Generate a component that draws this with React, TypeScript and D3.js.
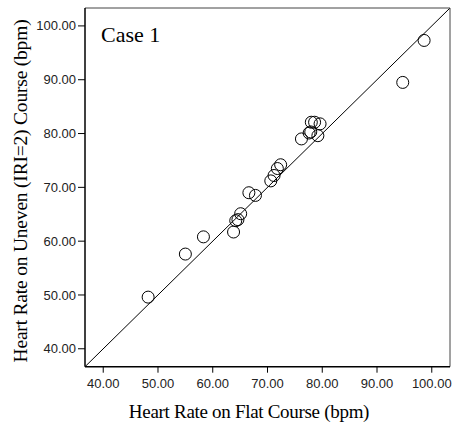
import React from "react";
import * as d3 from "d3";

const flatHR = [48.2, 55.0, 58.3, 63.8, 64.2, 64.6, 65.1, 66.6, 67.8, 70.6, 71.2, 71.8, 72.4, 76.2, 77.6, 77.9, 78.0, 78.6, 79.6, 79.2, 94.7, 98.6];
const unevenHR = [49.6, 57.6, 60.8, 61.7, 63.8, 64.0, 65.1, 69.0, 68.5, 71.2, 72.2, 73.5, 74.2, 79.0, 80.1, 80.3, 82.1, 82.1, 81.8, 79.6, 89.5, 97.3];
const ticks = [40, 50, 60, 70, 80, 90, 100];
const domain: [number, number] = [36.67, 103.33];
const caseLabel = "Case 1";
const xTitle = "Heart Rate on Flat Course (bpm)";
const yTitle = "Heart Rate on Uneven (IRI=2) Course (bpm)";

export default function App() {
  const W = 452, H = 430;
  const left = 85, right = 450, top = 8, bottom = 366.7;
  const x = d3.scaleLinear().domain(domain).range([left, right]);
  const y = d3.scaleLinear().domain(domain).range([bottom, top]);
  const pts = flatHR.map((v, i) => ({ x: v, y: unevenHR[i] }));
  const fmt = d3.format(".2f");
  const sans = "'Liberation Sans', Arial, sans-serif";
  const serif = "'Liberation Serif', 'Times New Roman', serif";
  return (
    <svg width={W} height={H} style={{ position: "absolute", left: 0, top: 0, background: "#fff" }}>
      <rect x={0} y={0} width={W} height={H} fill="#fff" />
      <line x1={x(domain[0])} y1={y(domain[0])} x2={x(domain[1])} y2={y(domain[1])} stroke="#000" strokeWidth={1} />
      {pts.map((p, i) => (
        <circle key={i} cx={x(p.x)} cy={y(p.y)} r={6} fill="none" stroke="#000" strokeWidth={1} />
      ))}
      <line x1={left} y1={top} x2={right} y2={top} stroke="#444" strokeWidth={1} />
      <line x1={right} y1={top} x2={right} y2={bottom} stroke="#444" strokeWidth={1} />
      <line x1={left} y1={top} x2={left} y2={bottom} stroke="#000" strokeWidth={1.5} />
      <line x1={left} y1={bottom} x2={right} y2={bottom} stroke="#000" strokeWidth={1.5} />
      {ticks.map((t) => (
        <g key={"x" + t}>
          <line x1={x(t)} x2={x(t)} y1={bottom} y2={bottom + 6} stroke="#000" strokeWidth={1} />
          <text x={x(t)} y={bottom + 21} textAnchor="middle" fontFamily={sans} fontSize={13} fill="#222">{fmt(t)}</text>
        </g>
      ))}
      {ticks.map((t) => (
        <g key={"y" + t}>
          <line x1={left - 7} x2={left} y1={y(t)} y2={y(t)} stroke="#000" strokeWidth={1} />
          <text x={left - 9} y={y(t)} dy="0.35em" textAnchor="end" fontFamily={sans} fontSize={13} fill="#222">{fmt(t)}</text>
        </g>
      ))}
      <text x={101} y={42} fontFamily={serif} fontSize={22} fill="#000">{caseLabel}</text>
      <text x={249} y={418} textAnchor="middle" fontFamily={serif} fontSize={19} fill="#000" letterSpacing={-0.3}>{xTitle}</text>
      <text transform={`translate(27,191) rotate(-90)`} textAnchor="middle" fontFamily={serif} fontSize={19.5} fill="#000" letterSpacing={-0.2}>{yTitle}</text>
    </svg>
  );
}
